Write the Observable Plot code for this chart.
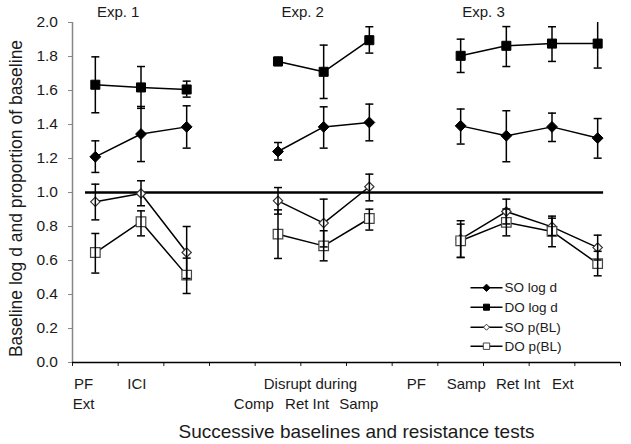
<!DOCTYPE html>
<html>
<head>
<meta charset="utf-8">
<script src="https://cdn.jsdelivr.net/npm/d3@7"></script>
<script src="https://cdn.jsdelivr.net/npm/@observablehq/plot@0.6"></script>
<style>
  body { margin: 0; background: #fff; }
  #chart svg { font-family: "Liberation Sans", Arial, sans-serif; }
</style>
</head>
<body>
<div id="chart"></div>
<script>
// ---------- data ----------
const testCategory = [0, 1, 2, 4, 5, 6, 8, 9, 10, 11];
const experiment = ["Exp. 1","Exp. 1","Exp. 1","Exp. 2","Exp. 2","Exp. 2","Exp. 3","Exp. 3","Exp. 3","Exp. 3"];
const seriesNames = ["SO log d", "DO log d", "SO p(BL)", "DO p(BL)"];

const soLogD   = [1.210, 1.344, 1.386, 1.241, 1.386, 1.412, 1.392, 1.334, 1.386, 1.320];
const soLogDHi = [1.304, 1.506, 1.510, 1.294, 1.504, 1.520, 1.491, 1.481, 1.467, 1.435];
const soLogDLo = [1.118, 1.182, 1.261, 1.191, 1.261, 1.304, 1.285, 1.181, 1.300, 1.202];

const doLogD   = [1.634, 1.618, 1.606, 1.771, 1.710, 1.896, 1.804, 1.863, 1.876, 1.876];
const doLogDHi = [1.798, 1.741, 1.655, 1.795, 1.867, 1.975, 1.902, 1.976, 1.975, 2.020];
const doLogDLo = [1.469, 1.495, 1.561, 1.747, 1.553, 1.820, 1.706, 1.741, 1.771, 1.732];

const soPBL    = [0.945, 0.994, 0.647, 0.951, 0.820, 1.034, 0.726, 0.888, 0.798, 0.676];
const soPBLHi  = [1.049, 1.069, 0.800, 1.029, 0.961, 1.108, 0.834, 0.961, 0.849, 0.749];
const soPBLLo  = [0.839, 0.922, 0.494, 0.873, 0.680, 0.951, 0.618, 0.815, 0.747, 0.603];

const doPBL    = [0.647, 0.828, 0.514, 0.755, 0.686, 0.847, 0.716, 0.824, 0.771, 0.582];
const doPBLHi  = [0.759, 0.892, 0.614, 0.898, 0.775, 0.902, 0.814, 0.903, 0.861, 0.654];
const doPBLLo  = [0.526, 0.745, 0.406, 0.612, 0.598, 0.779, 0.618, 0.745, 0.681, 0.510];

const experimentLabels = ["Exp. 1", "Exp. 2", "Exp. 3"];
const xLabelsRow1 = ["PF", "ICI", "Disrupt during", "PF", "Samp", "Ret Int", "Ext"];
const xLabelsRow2 = ["Ext", "Comp", "Ret Int", "Samp"];
const yTicks = [0, 0.2, 0.4, 0.6, 0.8, 1.0, 1.2, 1.4, 1.6, 1.8, 2.0];
const referenceValue = 1.0;
const xTitle = "Successive baselines and resistance tests";
const yTitle = "Baseline log d and proportion of baseline";

// ---------- layout (category units / pixels) ----------
const expLabelAt = [1.0, 5.04, 9.0];
const row1At = [0.241, 1.408, 5.21, 7.528, 8.623, 9.756, 10.74];
const row1Anchor = ["start", "middle", "middle", "middle", "middle", "middle", "middle"];
const row2At = [0.241, 3.97, 5.139, 6.27];
const row2Anchor = ["start", "middle", "middle", "middle"];
const refFrom = 0.285, refTo = 11.63;

const seriesStyle = [
  {mean: soLogD, hi: soLogDHi, lo: soLogDLo, symbol: "diamond2", r: 4.9, fill: "black", stroke: "black", sw: 1, lr: 3.3},
  {mean: doLogD, hi: doLogDHi, lo: doLogDLo, symbol: "square", r: 5.1, fill: "black", stroke: "black", sw: 1, lr: 3.4},
  {mean: soPBL, hi: soPBLHi, lo: soPBLLo, symbol: "diamond2", r: 4.2, fill: "white", stroke: "#333", sw: 1.2, lr: 2.7},
  {mean: doPBL, hi: doPBLHi, lo: doPBLLo, symbol: "square", r: 5.4, fill: "white", stroke: "#444", sw: 1.2, lr: 3.6}
];

const rows = [];
seriesStyle.forEach((s, k) => {
  testCategory.forEach((c, i) => {
    rows.push({series: seriesNames[k], exp: experiment[i], x: c + 0.5, y: s.mean[i], hi: s.hi[i], lo: s.lo[i]});
  });
});

const capSymbol = {draw(ctx) { ctx.moveTo(-4, 0); ctx.lineTo(4, 0); }};
const legendLineSymbol = {draw(ctx) { ctx.moveTo(-16, 0); ctx.lineTo(16, 0); }};

const W = 631, H = 444, ML = 72, MT = 22, MR = 11, MB = 82;

const marks = [
  Plot.ruleX([0], {stroke: "#868686", strokeWidth: 1.5}),
  Plot.ruleY([0], {stroke: "black", strokeWidth: 1.5}),
  Plot.ruleY([referenceValue], {x1: refFrom, x2: refTo, stroke: "black", strokeWidth: 2.5}),
  Plot.line(rows, {x: "x", y: "y", z: d => d.series + d.exp, stroke: "black", strokeWidth: 1.5})
];

seriesStyle.forEach((s, k) => {
  const sub = rows.filter(d => d.series === seriesNames[k]);
  marks.push(Plot.dot(sub, {x: "x", y: "y", symbol: s.symbol, r: s.r, fill: s.fill, stroke: s.stroke, strokeWidth: s.sw}));
});
marks.push(
  Plot.ruleX(rows, {x: "x", y1: "lo", y2: "hi", stroke: "black", strokeWidth: 1.5, clip: true}),
  Plot.dot(rows, {x: "x", y: "hi", symbol: capSymbol, fill: "none", stroke: "black", strokeWidth: 1.5, clip: true}),
  Plot.dot(rows, {x: "x", y: "lo", symbol: capSymbol, fill: "none", stroke: "black", strokeWidth: 1.5, clip: true})
);

// experiment labels
marks.push(Plot.text(experimentLabels, {x: (d, i) => expLabelAt[i], frameAnchor: "top", dy: -10, textAnchor: "middle", lineAnchor: "middle", fontSize: 15, fill: "#1a1a1a"}));

// category labels
marks.push(Plot.text(xLabelsRow1, {x: (d, i) => row1At[i], frameAnchor: "bottom", dy: 21.5, textAnchor: (d, i) => row1Anchor[i], lineAnchor: "middle", fontSize: 15, fill: "#1a1a1a"}));
marks.push(Plot.text(xLabelsRow2, {x: (d, i) => row2At[i], frameAnchor: "bottom", dy: 41.5, textAnchor: (d, i) => row2Anchor[i], lineAnchor: "middle", fontSize: 15, fill: "#1a1a1a"}));

// axis titles
marks.push(Plot.text([xTitle], {frameAnchor: "bottom", dx: 10, dy: 69.5, textAnchor: "middle", lineAnchor: "middle", fontSize: 19, fill: "#1a1a1a"}));
marks.push(Plot.text([yTitle], {frameAnchor: "left", dx: -56, dy: 6, rotate: -90, textAnchor: "middle", lineAnchor: "middle", fontSize: 17.5, fill: "#1a1a1a"}));

// legend
const legendY = [287.3, 306.7, 326.7, 345.7];
seriesStyle.forEach((s, k) => {
  const dy = legendY[k] - MT;
  marks.push(Plot.dot([0], {frameAnchor: "top-left", dx: 486 - ML, dy, symbol: legendLineSymbol, fill: "none", stroke: "black", strokeWidth: 1.5}));
  marks.push(Plot.dot([0], {frameAnchor: "top-left", dx: 486 - ML, dy, symbol: s.symbol, r: s.lr, fill: s.fill, stroke: s.stroke, strokeWidth: 1}));
  marks.push(Plot.text([seriesNames[k]], {frameAnchor: "top-left", dx: 504 - ML, dy, textAnchor: "start", lineAnchor: "middle", fontSize: 13.5, fill: "#1a1a1a"}));
});

const chart = Plot.plot({
  width: W, height: H,
  marginLeft: ML, marginTop: MT, marginRight: MR, marginBottom: MB,
  style: {fontSize: "15.5px", fontFamily: '"Liberation Sans", Arial, sans-serif', color: "#1a1a1a", background: "white", overflow: "visible"},
  x: {type: "linear", domain: [0, 12], ticks: d3.range(0, 13), tickFormat: () => "", tickSize: 4, label: null},
  y: {domain: [0, 2], ticks: yTicks, tickFormat: d3.format(".1f"), tickSize: 4, tickPadding: 10.5, label: null},
  marks
});
document.getElementById("chart").appendChild(chart);
chart.querySelectorAll('[aria-label^="y-axis"] line, [aria-label^="y-axis"] path').forEach(e => e.setAttribute("stroke", "#868686"));
</script>
</body>
</html>
